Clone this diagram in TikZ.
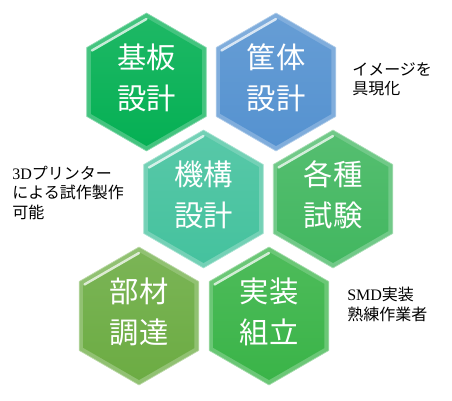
\documentclass[tikz,border=0pt]{standalone}
\usepackage{fontspec}
\setmainfont{Liberation Serif}
\newfontfamily\jpfont{Noto Sans CJK JP}
\usetikzlibrary{shapes.geometric}
\definecolor{hexgreen}{HTML}{05B054}
\definecolor{hexblue}{HTML}{5592D0}
\definecolor{hexteal}{HTML}{45C29E}
\definecolor{hexleaf}{HTML}{42B760}
\definecolor{hexolive}{HTML}{6CAC43}
\definecolor{hexgrass}{HTML}{3AB448}
\tikzset{
  hexrim/.style={
    regular polygon, regular polygon sides=6, shape border rotate=90,
    inner sep=0pt, minimum size=103.5pt, fill=#1!75!white,
    draw=#1!45!white, line width=0.5pt
  },
  hexface/.style={
    regular polygon, regular polygon sides=6, shape border rotate=90,
    inner sep=0pt, minimum size=96pt, top color=#1!90!white, bottom color=#1
  },
  hexlabel/.style={
    text=white, align=center, inner sep=0pt,
    font=\jpfont\fontsize{22}{31}\selectfont
  },
  sidenote/.style={
    align=left, anchor=north west, inner sep=0pt,
    font=\jpfont\fontsize{12}{14.5}\selectfont
  },
  bevel/.style={white, line width=1.8pt, opacity=0.75, line cap=round}
}

\begin{document}
\begin{tikzpicture}[x=0.75pt, y=0.75pt]
\useasboundingbox (0,0) rectangle (452,400);

% Hexagon cells
\foreach \n/\x/\y/\c/\t in {
    kiban/146.5/318/hexgreen/{基板\\設計},
    kyotai/276/318/hexblue/{筐体\\設計},
    kiko/203.5/201/hexteal/{機構\\設計},
    shiken/333/201/hexleaf/{各種\\試験},
    buzai/139/84/hexolive/{部材\\調達},
    jisso/269/84/hexgrass/{実装\\組立}} {
  \node[hexrim=\c] (\n) at (\x,\y) {};
  \node[hexface=\c] (\n-face) at (\n.center) {};
  \draw[bevel] ([shift={(150:63)}]\n.center) -- ([shift={(90:63)}]\n.center);
  \node[hexlabel] (\n-text) at ([yshift=3]\n.center) {\t};
}

% Side notes
\node[sidenote] (gutaika) at (352,338) {イメージを\\具現化};
\node[sidenote] (proto) at (12,234) {{\rmfamily 3D}プリンター\\による試作製作\\可能};
\node[sidenote] (smd) at (347,113) {{\rmfamily SMD}実装\\熟練作業者};

\end{tikzpicture}
\end{document}
